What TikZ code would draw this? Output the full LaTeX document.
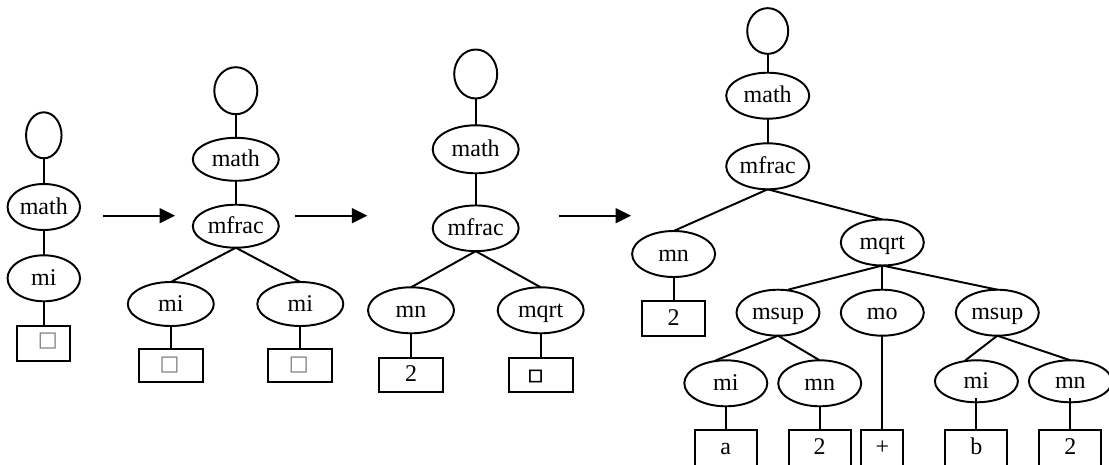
\documentclass[tikz,border=0pt]{standalone}
\usepackage{fontspec}
\setmainfont{Liberation Serif}
\newfontfamily\symfont{DejaVu Sans}
\newfontfamily\symboldfont[FakeBold=4]{DejaVu Sans}
\usetikzlibrary{shapes.geometric,arrows.meta}
\tikzset{
  base/.style={draw=black,line width=1.95pt,inner sep=0pt,outer sep=0pt,font=\fontsize{24}{24}\selectfont,text=black,text height=14pt,text depth=0pt},
  oval/.style={base,ellipse,minimum width=#1},
  oval/.default=86pt,
  tall/.style={minimum height=46pt},
  root/.style={base,ellipse},
  leaf/.style={base,rectangle,text depth=1pt},
  edge/.style={line width=1.95pt,draw=black},
  flow/.style={line width=1.95pt,draw=black,-{Triangle[length=15.5pt,width=15pt]}},
  emptyglyph/.style={text=black!55},
}
\newcommand{\boxglyph}[2]{\hspace*{#1}\raisebox{#2}{\symfont\fontsize{21}{21}\selectfont □}}
\newcommand{\boldglyph}[2]{\hspace*{#1}\raisebox{#2}{\symboldfont\fontsize{16}{16}\selectfont □}}
\begin{document}
\begin{tikzpicture}[x=1pt,y=-1pt]
\useasboundingbox (0,0) rectangle (1109,464);
\clip (0,0) rectangle (1109,464);
% tree 1
\node[root,minimum width=35.5pt,minimum height=46pt] (a0) at (43.8,135.3) {};
\node[oval=72.5pt,minimum height=46pt] (a1) at (43.8,207) {math};
\node[oval=72.5pt,minimum height=46pt] (a2) at (43.8,278.3) {mi};
\node[leaf,minimum width=53.3pt,minimum height=35pt,emptyglyph] (a3) at (43.8,343.7) {\boxglyph{7.8pt}{4pt}};
\draw[edge] (a0) -- (a1);
\draw[edge] (a1) -- (a2);
\draw[edge] (a2) -- (a3);
% arrows
\coordinate (f1s) at (103.3,215.7);
\coordinate (f1e) at (175,215.7);
\coordinate (f2s) at (295.3,215.7);
\coordinate (f2e) at (367.3,215.7);
\coordinate (f3s) at (559,215.7);
\coordinate (f3e) at (631,215.7);
\draw[flow] (f1s) -- (f1e);
\draw[flow] (f2s) -- (f2e);
\draw[flow] (f3s) -- (f3e);
% tree 2
\node[root,minimum width=43pt,minimum height=47pt] (b0) at (235.8,90.7) {};
\node[oval,minimum height=43pt] (b1) at (235.8,159.3) {math};
\node[oval,minimum height=43pt] (b2) at (235.8,226.2) {mfrac};
\node[oval,minimum height=44pt] (b3) at (170.8,304) {mi};
\node[oval,minimum height=44pt] (b4) at (300.3,304) {mi};
\node[leaf,minimum width=64pt,minimum height=33.4pt,emptyglyph] (b5) at (170.8,365.5) {\boxglyph{-2.6pt}{2pt}};
\node[leaf,minimum width=64pt,minimum height=33.4pt,emptyglyph] (b6) at (300.3,365.5) {\boxglyph{-3pt}{2pt}};
\draw[edge] (b0) -- (b1);
\draw[edge] (b1) -- (b2);
\draw[edge] (b2.south) -- (b3.north);
\draw[edge] (b2.south) -- (b4.north);
\draw[edge] (b3) -- (b5);
\draw[edge] (b4) -- (b6);
% tree 3
\node[root,minimum width=43pt,minimum height=49pt] (c0) at (475.7,74) {};
\node[oval,minimum height=48pt] (c1) at (475.7,149.3) {math};
\node[oval,minimum height=45.7pt] (c2) at (475.7,228.3) {mfrac};
\node[oval,minimum height=46pt] (c3) at (411,310.3) {mn};
\node[oval,minimum height=46pt] (c4) at (540.7,310.3) {mqrt};
\node[leaf,minimum width=64pt,minimum height=34pt] (c5) at (411,374.8) {2};
\node[leaf,minimum width=64pt,minimum height=34pt] (c6) at (540.7,374.8) {\boldglyph{-10.4pt}{1.2pt}};
\draw[edge] (c0) -- (c1);
\draw[edge] (c1) -- (c2);
\draw[edge] (c2.south) -- (c3.north);
\draw[edge] (c2.south) -- (c4.north);
\draw[edge] (c3) -- (c5);
\draw[edge] (c4) -- (c6);
% tree 4
\node[root,minimum width=41pt,minimum height=45.7pt] (d0) at (767.7,31) {};
\node[oval=83pt,tall] (d1) at (767.7,95.7) {math};
\node[oval=83pt,tall] (d2) at (767.7,166.3) {mfrac};
\node[oval=83pt,tall] (d3) at (673.6,254) {mn};
\node[oval=83pt,tall] (d4) at (882.3,242.5) {mqrt};
\node[leaf,minimum width=62.3pt,minimum height=34.7pt] (d5) at (673.6,318.8) {2};
\node[oval=83pt,tall] (d6) at (778,312.7) {msup};
\node[oval=83pt,tall] (d7) at (882.3,312.7) {mo};
\node[oval=83pt,tall] (d8) at (997.3,312.7) {msup};
\node[oval=83pt,tall] (d9) at (725.8,383.3) {mi};
\node[oval=83pt,tall] (d10) at (819.7,383.3) {mn};
\node[oval=83pt,minimum height=42pt] (d11) at (976.4,381.3) {mi};
\node[oval=83pt,minimum height=42pt] (d12) at (1070.4,381.3) {mn};
\tikzset{lowleaf/.style={leaf,minimum height=40pt,text depth=6pt}}
\node[lowleaf,minimum width=62pt] (d13) at (725.8,450) {a};
\node[lowleaf,minimum width=62pt] (d14) at (819.7,450) {2};
\node[lowleaf,minimum width=41.7pt] (d15) at (882.3,450) {+};
\node[lowleaf,minimum width=62pt] (d16) at (976.4,450) {b};
\node[lowleaf,minimum width=62pt] (d17) at (1070.4,450) {2};
\draw[edge] (d0) -- (d1);
\draw[edge] (d1) -- (d2);
\draw[edge] (d2.south) -- (d3.north);
\draw[edge] (d2.south) -- (d4.north);
\draw[edge] (d3) -- (d5);
\draw[edge] (d4.south) -- ([xshift=10pt]d6.north);
\draw[edge] (d4) -- (d7);
\draw[edge] (d4.south) -- (d8.north);
\draw[edge] (d6.south) -- ([xshift=-10pt]d9.north);
\draw[edge] (d6.south) -- (d10.north);
\draw[edge] (d8.south) -- ([xshift=-11pt]d11.north);
\draw[edge] (d8.south) -- (d12.north);
\draw[edge] (d9) -- (d13);
\draw[edge] (d10) -- (d14);
\draw[edge] (d7) -- (d15);
\draw[edge] ([yshift=4pt]d11.south) -- (d16.north);
\draw[edge] ([yshift=4pt]d12.south) -- (d17.north);
\end{tikzpicture}
\end{document}
